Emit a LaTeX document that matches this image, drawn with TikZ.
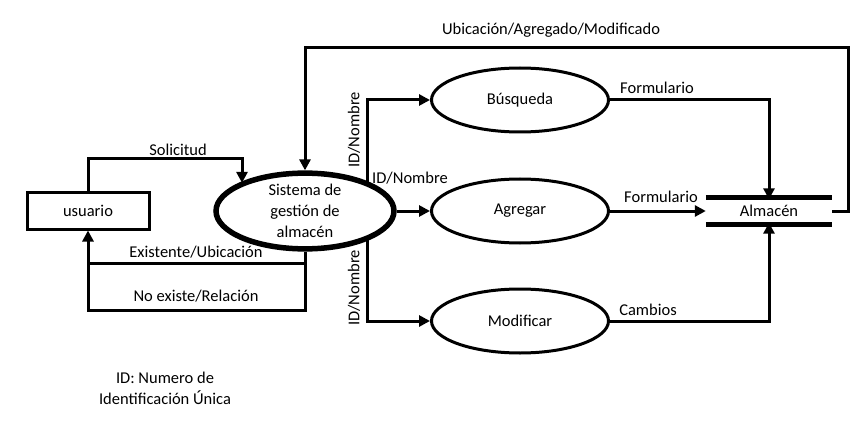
\documentclass[tikz,border=0pt]{standalone}
\usepackage{fontspec}
\setmainfont{Carlito}
\usetikzlibrary{shapes.geometric,arrows.meta}
\begin{document}
\begin{tikzpicture}[x=1pt,y=-1pt,
  every node/.style={font=\fontsize{16.5}{21}\selectfont, inner sep=0pt},
  proc/.style={ellipse, draw, line width=3pt, minimum width=177pt, minimum height=64pt},
  mainproc/.style={ellipse, draw, line width=5.5pt, minimum width=178pt, minimum height=66pt, align=center},
  ent/.style={rectangle, draw, line width=3pt, minimum width=122pt, minimum height=36pt},
  store/.style={minimum width=126pt, minimum height=27pt},
  arr/.style={line width=3pt, -{Triangle[length=11pt,width=11pt]}},
  ln/.style={line width=3pt},
  lbl/.style={}
]
\useasboundingbox (0,0) rectangle (864,422);

\node[ent] (usr) at (88,211) {usuario};
\node[mainproc] (sist) at (305,211) {Sistema de\\gestión de\\almacén};
\node[proc] (busq) at (520,100) {Búsqueda};
\node[proc] (agr) at (520,211) {Agregar};
\node[proc] (modif) at (520,321) {Modificar};
\node[store] (alm) at (769,211) {Almacén};
\draw[line width=5pt] (alm.north west) -- (alm.north east);
\draw[line width=5pt] (alm.south west) -- (alm.south east);

% Solicitud
\coordinate (s1) at (242,159);
\draw[arr] (usr.north) |- (s1) -- (s1 |- sist.157);
\node[lbl] (lsol) at (178,150) {Solicitud};

% top loop
\coordinate (t1) at (848,48);
\draw[arr] (alm.east) -| (t1) -| (sist.north);
\node[lbl] (ltop) at (551,30) {Ubicación/Agregado/Modificado};

% return flows
\coordinate (e1) at (88,263);
\coordinate (n1) at (88,310);
\draw[arr] (sist.south) |- (e1) -- (usr.south);
\draw[ln] (sist.south |- e1) |- (n1) -- (e1);
\node[lbl] (lex) at (196,252) {Existente/Ubicación};
\node[lbl] (lno) at (196,296) {No existe/Relación};

% ID/Nombre flows
\coordinate (vx) at (367,211);
\draw[arr] (vx |- sist.25) |- (busq.west);
\draw[arr] (vx |- sist.-25) |- (modif.west);
\draw[arr] (sist.east) -- (agr.west);
\node[lbl, rotate=90] (lid1) at (354,130) {ID/Nombre};
\node[lbl, rotate=90] (lid3) at (354,288) {ID/Nombre};
\node[lbl] (lid2) at (410,178) {ID/Nombre};

% to store
\draw[arr] (busq.east) -| ([yshift=-2pt]alm.north);
\draw[arr] (agr.east) -- (alm.west);
\draw[arr] (modif.east) -| ([yshift=2pt]alm.south);
\node[lbl] (lf1) at (657,88) {Formulario};
\node[lbl] (lf2) at (661,197) {Formulario};
\node[lbl] (lcam) at (648,310) {Cambios};

\node[align=center] (note) at (165,388) {ID: Numero de\\Identificación Única};
\end{tikzpicture}
\end{document}
